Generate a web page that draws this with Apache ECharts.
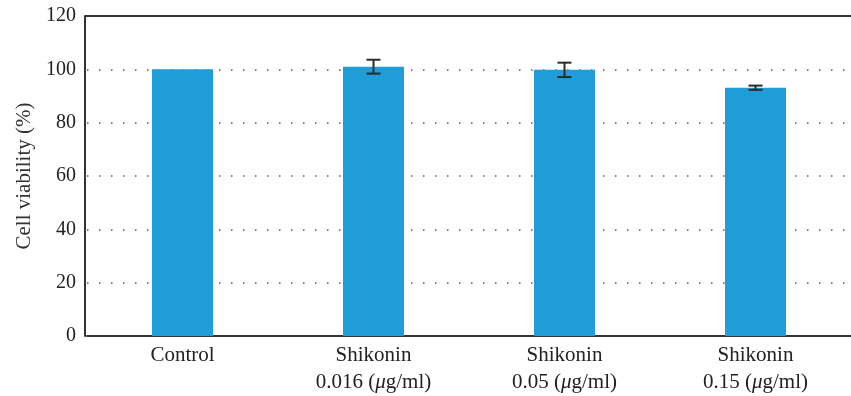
<!DOCTYPE html>
<html>
<head>
<meta charset="utf-8">
<script src="https://cdn.jsdelivr.net/npm/echarts@6/dist/echarts.min.js"></script>
<style>
html,body{margin:0;padding:0;background:#fff;}
#chart{width:851px;height:396px;}
</style>
</head>
<body>
<div id="chart"></div>
<script>
// Treatment groups and their labels (second line is the dose, μ drawn in italics)
const groups = ['Control', 'Shikonin', 'Shikonin', 'Shikonin'];
const doses = ['', '0.016', '0.05', '0.15'];
// Mean cell viability (%) and standard deviation per group
const viability = [100, 101, 99.8, 93.1];
const errors = [0, 2.6, 2.7, 0.8];
const yTicks = [0, 20, 40, 60, 80, 100, 120];

const font = '"Liberation Serif", "DejaVu Serif", serif';
const chart = echarts.init(document.getElementById('chart'));

const errData = viability.map((v, i) => [i, v - errors[i], v + errors[i]]);

chart.setOption({
  animation: false,
  grid: { left: 87, right: -6, top: 16, bottom: 60 },
  graphic: [{
    // top frame line
    type: 'line',
    shape: { x1: 85, y1: 16, x2: 851, y2: 16 },
    style: { stroke: '#333', lineWidth: 2 },
    z: 10
  }],
  xAxis: {
    type: 'category',
    data: groups.map((g, i) => i),
    axisLine: { lineStyle: { color: '#333', width: 2 } },
    axisTick: { show: false },
    axisLabel: {
      interval: 0,
      margin: 6,
      formatter: (v) => {
        const i = +v;
        return doses[i] ? groups[i] + '\n{n|' + doses[i] + ' (}{mu|μ}{n|g/ml)}' : groups[i];
      },
      fontFamily: font, fontSize: 21, color: '#222', lineHeight: 27,
      rich: {
        n: { fontFamily: font, fontSize: 21, color: '#222', lineHeight: 27 },
        mu: { fontFamily: font, fontSize: 21, color: '#222', fontStyle: 'italic', lineHeight: 27 }
      }
    }
  },
  yAxis: {
    type: 'value',
    offset: 2,
    min: yTicks[0], max: yTicks[yTicks.length - 1], interval: 20,
    name: 'Cell viability (%)',
    nameLocation: 'middle',
    nameGap: 48,
    nameTextStyle: { fontFamily: font, fontSize: 21, color: '#333' },
    axisLine: { show: true, lineStyle: { color: '#333', width: 2 } },
    axisTick: { show: false },
    axisLabel: { fontFamily: font, fontSize: 20, color: '#222', margin: 9 },
    splitLine: {
      show: true,
      lineStyle: { color: '#555', width: 1.5, type: [1.5, 10.5] }
    }
  },
  series: [{
    type: 'bar',
    data: viability,
    barWidth: 61,
    itemStyle: { color: '#1e9dd8' },
    z: 2
  }, {
    type: 'custom',
    data: errData,
    z: 3,
    renderItem: (params, api) => {
      const x = api.value(0);
      if (api.value(2) - api.value(1) === 0) return null;
      const lo = api.coord([x, api.value(1)]);
      const hi = api.coord([x, api.value(2)]);
      const w = 7;
      const style = { stroke: '#2a2a2a', lineWidth: 2 };
      return {
        type: 'group',
        children: [
          { type: 'line', shape: { x1: hi[0], y1: hi[1], x2: lo[0], y2: lo[1] }, style },
          { type: 'line', shape: { x1: hi[0] - w, y1: hi[1], x2: hi[0] + w, y2: hi[1] }, style },
          { type: 'line', shape: { x1: lo[0] - w, y1: lo[1], x2: lo[0] + w, y2: lo[1] }, style }
        ]
      };
    }
  }]
});
</script>
</body>
</html>
